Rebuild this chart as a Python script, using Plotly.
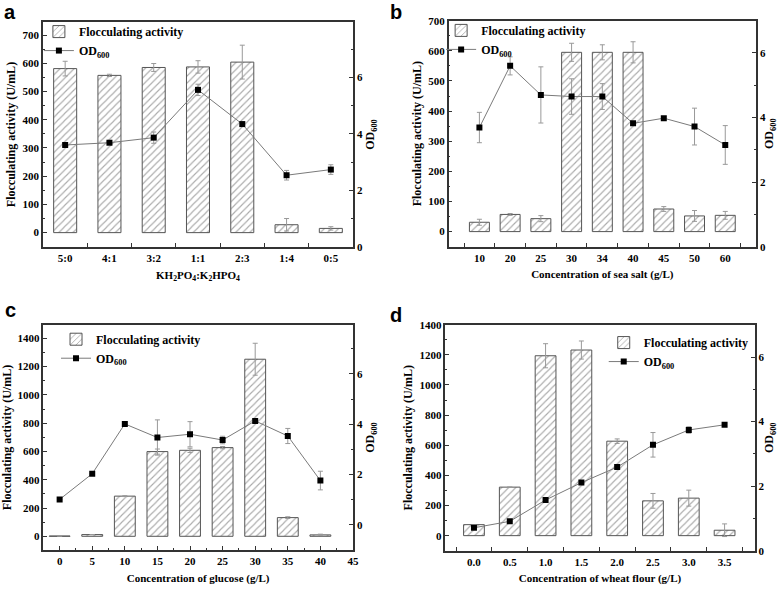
import plotly.graph_objects as go

# panel a - phosphate ratio
ratio_a = ["5:0", "4:1", "3:2", "1:1", "2:3", "1:4", "0:5"]
fa_a = [581, 557, 585, 587, 604, 28, 15]
fa_a_err = [26, 4, 14, 22, 60, 22, 6]
od_a = [3.61, 3.69, 3.87, 5.56, 4.35, 2.54, 2.74]
od_a_err = [0.05, 0.05, 0.2, 0.2, 0.06, 0.17, 0.17]

# panel b - sea salt
salt_b = ["10", "20", "25", "30", "34", "40", "45", "50", "60"]
fa_b = [31, 57, 43, 595, 595, 595, 75, 52, 54]
fa_b_err = [10, 3, 10, 30, 25, 35, 8, 18, 13]
od_b = [3.69, 5.60, 4.70, 4.65, 4.65, 3.82, 3.98, 3.72, 3.15]
od_b_err = [0.47, 0.28, 0.87, 0.55, 0.4, 0.05, 0.05, 0.57, 0.6]

# panel c - glucose
glucose_c = [0, 5, 10, 15, 20, 25, 30, 35, 40]
fa_c = [2, 12, 284, 599, 608, 627, 1252, 132, 10]
fa_c_err = [0, 0, 3, 18, 15, 8, 113, 6, 5]
od_c = [1.01, 2.03, 4.01, 3.47, 3.60, 3.37, 4.13, 3.53, 1.76]
od_c_err = [0, 0, 0.08, 0.7, 0.5, 0.15, 0, 0.3, 0.37]

# panel d - wheat flour
flour_d = ["0.0", "0.5", "1.0", "1.5", "2.0", "2.5", "3.0", "3.5"]
fa_d = [73, 322, 1194, 1232, 627, 231, 249, 36]
fa_d_err = [0, 0, 80, 60, 15, 49, 53, 42]
od_d = [0.71, 0.91, 1.57, 2.11, 2.59, 3.28, 3.74, 3.90]
od_d_err = [0, 0, 0, 0, 0, 0.38, 0.1, 0.05]

SERIF = "Liberation Serif"
FRAME = "#333333"

fig = go.Figure()


def add_panel(n, x, fa, fa_err, od, od_err, bar_width, legend_name):
    xa = "x" if n == 1 else "x%d" % n
    ya = "y" if n == 1 else "y%d" % (2 * n - 1)
    yb = "y%d" % (2 * n)
    fig.add_trace(go.Bar(
        x=x, y=fa, width=bar_width, name="Flocculating activity",
        xaxis=xa, yaxis=ya, legend=legend_name,
        marker=dict(color="white", line=dict(color="#555555", width=1),
                    pattern=dict(shape="/", fgcolor="#555555", bgcolor="white",
                                 size=5, solidity=0.22)),
        error_y=dict(type="data", array=fa_err, color="#999999",
                     thickness=1, width=2.5),
    ))
    fig.add_trace(go.Scatter(
        x=x, y=od, mode="lines+markers", name="OD<sub>600</sub>",
        xaxis=xa, yaxis=yb, legend=legend_name,
        line=dict(color="#7a7a7a", width=1),
        marker=dict(symbol="square", size=6, color="black"),
        error_y=dict(type="data", array=od_err, color="#999999",
                     thickness=1, width=2.5),
    ))


add_panel(1, ratio_a, fa_a, fa_a_err, od_a, od_a_err, 0.52, "legend")
add_panel(2, salt_b, fa_b, fa_b_err, od_b, od_b_err, 0.65, "legend2")
add_panel(3, glucose_c, fa_c, fa_c_err, od_c, od_c_err, 3.2, "legend3")
add_panel(4, flour_d, fa_d, fa_d_err, od_d, od_d_err, 0.58, "legend4")

tickfont = dict(family=SERIF, size=11, color="black", weight="bold")
ytitlefont = dict(family=SERIF, size=12, color="black", weight="bold")
xtitlefont = dict(family=SERIF, size=11, color="black", weight="bold")


def x_axis(domain, anchor, title, **kw):
    d = dict(domain=domain, anchor=anchor, automargin=False, showline=True,
             linecolor=FRAME, linewidth=1.5, mirror=True, ticks="inside",
             ticklen=4, tickcolor=FRAME, tickfont=tickfont, showgrid=False,
             zeroline=False, title=dict(text=title, font=xtitlefont, standoff=8))
    d.update(kw)
    return d


def y_left(domain, anchor, rng, dtick):
    return dict(domain=domain, anchor=anchor, automargin=False, range=rng,
                dtick=dtick, showline=True, linecolor=FRAME, linewidth=1.5,
                ticks="inside", ticklen=4, tickcolor=FRAME, tickfont=tickfont,
                showgrid=False, zeroline=False,
                minor=dict(ticks="inside", ticklen=2, dtick=dtick / 2, tickcolor=FRAME),
                title=dict(text="Flocculating activity (U/mL)", font=ytitlefont,
                           standoff=4))


def y_right(over, anchor, rng, dtick):
    return dict(overlaying=over, anchor=anchor, side="right", automargin=False,
                range=rng, dtick=dtick, showline=True, linecolor=FRAME,
                linewidth=1.5, ticks="inside", ticklen=4, tickcolor=FRAME,
                tickfont=tickfont, showgrid=False, zeroline=False,
                minor=dict(ticks="inside", ticklen=2, dtick=dtick / 2, tickcolor=FRAME),
                title=dict(text="OD<sub>600</sub>", font=ytitlefont, standoff=4))


dom_a = ([0.0553, 0.4537], [0.5806, 0.9626])
dom_b = ([0.5767, 0.9717], [0.5812, 0.9649])
dom_c = ([0.0557, 0.4537], [0.0662, 0.4482])
dom_d = ([0.5724, 0.9700], [0.0650, 0.4487])

legfont = dict(family=SERIF, size=12, color="black", weight="bold")
leg = dict(font=legfont, bgcolor="rgba(0,0,0,0)", xanchor="left",
           yanchor="top", tracegroupgap=0, itemwidth=30)

fig.update_layout(
    width=778, height=589,
    margin=dict(l=0, r=0, t=0, b=0),
    paper_bgcolor="white", plot_bgcolor="white",
    barmode="overlay",
    xaxis=x_axis(dom_a[0], "y", "KH<sub>2</sub>PO<sub>4</sub>:K<sub>2</sub>HPO<sub>4</sub>",
                 type="category", range=[-0.5, 6.5], tickson="boundaries"),
    yaxis=y_left(dom_a[1], "x", [-51, 746], 100),
    yaxis2=y_right("y", "x", [0, 7.96], 2),
    xaxis2=x_axis(dom_b[0], "y3", "Concentration of sea salt (g/L)",
                  type="category", range=[-1, 9], tickson="boundaries"),
    yaxis3=y_left(dom_b[1], "x2", [-50, 700], 100),
    yaxis4=y_right("y3", "x2", [0, 7], 2),
    xaxis3=x_axis(dom_c[0], "y5", "Concentration of glucose (g/L)",
                  range=[-2.5, 45], dtick=5,
                  minor=dict(ticks="inside", ticklen=2, dtick=2.5, tickcolor=FRAME)),
    yaxis5=y_left(dom_c[1], "x3", [-97, 1494], 200),
    yaxis6=y_right("y5", "x3", [-1, 7.94], 2),
    xaxis4=x_axis(dom_d[0], "y7", "Concentration of wheat flour (g/L)",
                  type="category", range=[-0.8, 7.84], tickson="boundaries"),
    yaxis7=y_left(dom_d[1], "x4", [-100, 1400], 200),
    yaxis8=y_right("y7", "x4", [0, 7], 2),
    legend=dict(leg, x=0.050, y=0.971),
    legend2=dict(leg, x=0.567, y=0.973),
    legend3=dict(leg, x=0.072, y=0.4487),
    legend4=dict(leg, x=0.776, y=0.443),
)

# panel letters
for txt, px, py in [("a", 0.013, 0.98), ("b", 0.509, 0.98),
                    ("c", 0.013, 0.473), ("d", 0.509, 0.466)]:
    fig.add_annotation(text=txt, x=px, y=py, xref="paper", yref="paper",
                       showarrow=False, xanchor="center", yanchor="middle",
                       font=dict(family="Liberation Sans", size=20,
                                 color="black", weight="bold"))

# page body has a default 8px margin, drop it so the figure fills the window
fig.write_html("out.html", config={"displayModeBar": False},
               post_script="document.body.style.margin='0';")
